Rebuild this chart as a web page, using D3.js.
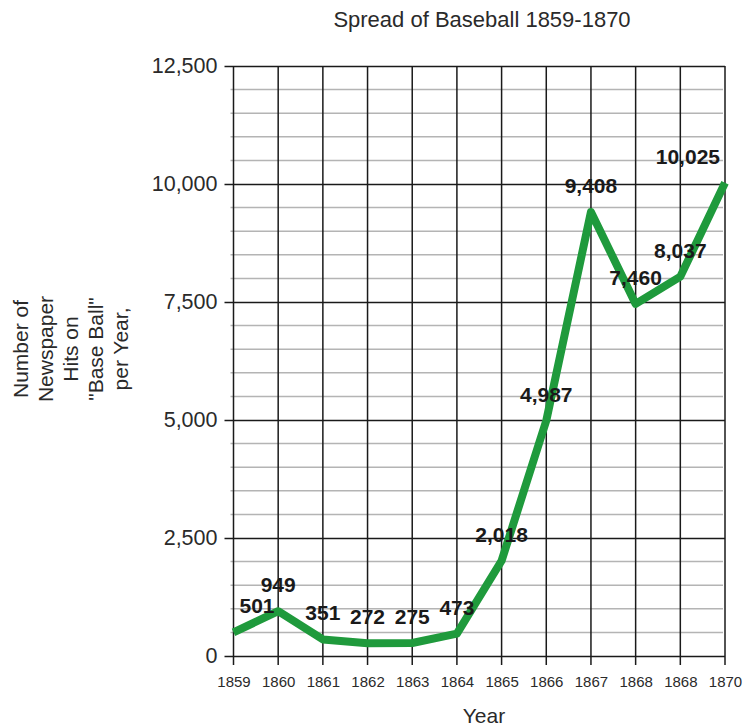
<!DOCTYPE html>
<html>
<head>
<meta charset="utf-8">
<script src="https://cdn.jsdelivr.net/npm/d3@7"></script>
<style>
  body { margin: 0; background: #fff; }
  text { font-family: "Liberation Sans", Arial, sans-serif; }
</style>
</head>
<body>
<script>
// tick labels as printed on the chart (1868 appears twice)
var yearLabels = ["1859", "1860", "1861", "1862", "1863", "1864", "1865", "1866", "1867", "1868", "1868", "1870"];
var hits = [501, 949, 351, 272, 275, 473, 2018, 4987, 9408, 7460, 8037, 10025];
var yTicks = [0, 2500, 5000, 7500, 10000, 12500];
var yMinor = d3.range(0, 12501, 500);
var yTitleLines = ["Number of", "Newspaper", "Hits on", "\"Base Ball\"", "per Year,"];

var width = 743, height = 726;
var plotLeft = 233.5, plotRight = 725, plotTop = 66, plotBottom = 656;

var svg = d3.select("body").append("svg")
    .attr("width", width)
    .attr("height", height);

var x = d3.scalePoint()
    .domain(d3.range(hits.length))
    .range([plotLeft, plotRight]);

var y = d3.scaleLinear()
    .domain([0, 12500])
    .range([plotBottom, plotTop]);

// minor horizontal grid
svg.append("g").selectAll("line")
    .data(yMinor.filter(function (v) { return v % 2500 !== 0; }))
    .enter().append("line")
    .attr("x1", plotLeft - 3).attr("x2", plotRight - 2)
    .attr("y1", function (d) { return y(d); })
    .attr("y2", function (d) { return y(d); })
    .attr("stroke", "#b4b4b4")
    .attr("stroke-width", 1.5);

// vertical grid
svg.append("g").selectAll("line")
    .data(d3.range(hits.length))
    .enter().append("line")
    .attr("x1", function (d) { return x(d); })
    .attr("x2", function (d) { return x(d); })
    .attr("y1", plotTop).attr("y2", plotBottom + 9)
    .attr("stroke", "#1a1a1a")
    .attr("stroke-width", 1.5);

// y axis with major grid lines
var yAxis = svg.append("g")
    .attr("transform", "translate(" + plotLeft + ",0)")
    .call(d3.axisLeft(y)
        .tickValues(yTicks)
        .tickSize(-(plotRight - plotLeft))
        .tickPadding(16)
        .tickFormat(d3.format(",")));
yAxis.select(".domain").remove();
yAxis.selectAll(".tick line")
    .attr("x1", -9)
    .attr("stroke", "#1a1a1a")
    .attr("stroke-width", 1.5);
yAxis.selectAll(".tick text")
    .attr("x", -16)
    .attr("font-size", 21.5)
    .attr("fill", "#2a2a2a")
    .attr("font-family", "Liberation Sans, Arial, sans-serif");

// x axis labels
var xAxis = svg.append("g")
    .attr("transform", "translate(0," + plotBottom + ")")
    .call(d3.axisBottom(x)
        .tickSize(0)
        .tickPadding(31)
        .tickFormat(function (i) { return yearLabels[i]; }));
xAxis.select(".domain").remove();
xAxis.selectAll(".tick text")
    .attr("font-size", 15)
    .attr("fill", "#2a2a2a")
    .attr("font-family", "Liberation Sans, Arial, sans-serif")
    .attr("dy", 0);

// data line
var line = d3.line()
    .x(function (d, i) { return x(i); })
    .y(function (d) { return y(d); });

svg.append("path")
    .datum(hits)
    .attr("d", line)
    .attr("fill", "none")
    .attr("stroke", "#1f9a3c")
    .attr("stroke-width", 8)
    .attr("stroke-linejoin", "round");

// value labels
var last = hits.length - 1;
svg.append("g").selectAll("text")
    .data(hits)
    .enter().append("text")
    .attr("x", function (d, i) {
        if (i === 0) return x(i) + 6;
        if (i === last) return x(i) - 5;
        return x(i);
    })
    .attr("y", function (d) { return y(d) - 19; })
    .attr("text-anchor", function (d, i) {
        return i === 0 ? "start" : (i === last ? "end" : "middle");
    })
    .attr("font-size", 21)
    .attr("font-weight", "bold")
    .attr("fill", "#1a1a1a")
    .text(function (d) { return d3.format(",")(d); });

// title
svg.append("text")
    .attr("x", 482)
    .attr("y", 27)
    .attr("text-anchor", "middle")
    .attr("font-size", 22)
    .attr("fill", "#2a2a2a")
    .text("Spread of Baseball 1859-1870");

// x title
svg.append("text")
    .attr("x", 484)
    .attr("y", 723)
    .attr("text-anchor", "middle")
    .attr("font-size", 21)
    .attr("fill", "#2a2a2a")
    .text("Year");

// y title, rotated, one column per line
svg.append("g").selectAll("text")
    .data(yTitleLines)
    .enter().append("text")
    .attr("transform", function (d, i) {
        return "translate(" + (28 + i * 25) + ",349) rotate(-90)";
    })
    .attr("text-anchor", "middle")
    .attr("font-size", 21)
    .attr("fill", "#2a2a2a")
    .text(function (d) { return d; });
</script>
</body>
</html>
